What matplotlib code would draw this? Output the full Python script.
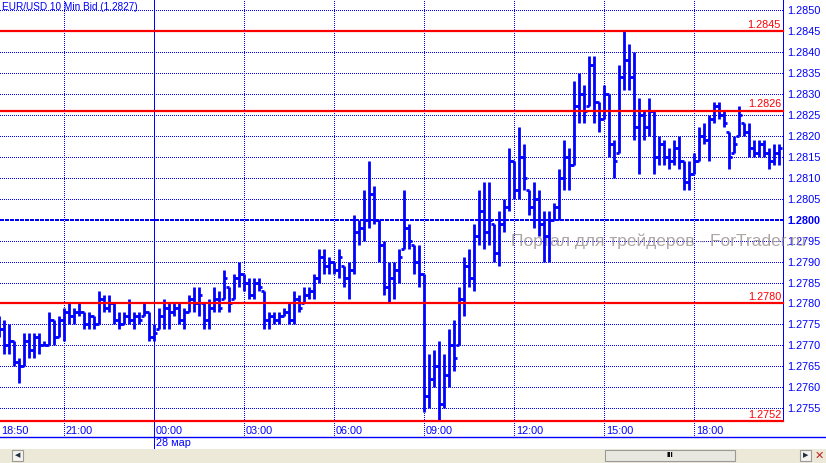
import numpy as np
import pandas as pd
import matplotlib
matplotlib.use("Agg")
import matplotlib.pyplot as plt
import matplotlib.transforms as mtransforms
from matplotlib.collections import LineCollection
from matplotlib.lines import Line2D
from matplotlib.patches import Rectangle

plt.rcParams['font.family'] = ['Liberation Sans', 'DejaVu Sans']
plt.rcParams['font.size'] = 7.5

# EUR/USD 10 min bid bars, in pips above 1.2700
start = "2011-03-27 18:50"
highs_p = [77, 76, 75, 71, 67, 73, 73, 73, 73, 71,
           78, 76, 77, 79, 80, 79, 80, 78, 78, 77,
           83, 82, 82, 80, 78, 78, 81, 78, 78, 80,
           78, 75, 79, 81, 80, 80, 80, 79, 82, 84,
           84, 80, 81, 84, 83, 88, 84, 87, 90, 87,
           86, 86, 86, 83, 78, 78, 78, 79, 80, 83,
           82, 84, 84, 87, 93, 93, 91, 90, 93, 89,
           90, 101, 100, 107, 114, 108, 100, 95, 90, 90,
           93, 107, 99, 94, 94, 87, 68, 69, 71, 68,
           74, 76, 84, 91, 93, 99, 107, 109, 109, 99,
           102, 105, 117, 114, 122, 118, 107, 109, 107, 102,
           102, 104, 112, 119, 117, 133, 135, 132, 139, 139,
           128, 132, 130, 119, 137, 145, 142, 140, 129, 126,
           129, 126, 120, 119, 117, 119, 120, 114, 114, 116,
           122, 123, 125, 128, 128, 126, 121, 120, 127, 123,
           123, 119, 119, 119, 117, 118, 118]
lows_p = [72, 68, 68, 65, 61, 65, 67, 67, 68, 70,
          70, 70, 72, 71, 75, 75, 77, 74, 74, 74,
          75, 78, 78, 75, 74, 75, 75, 74, 75, 77,
          71, 71, 74, 74, 74, 77, 75, 74, 78, 78,
          77, 74, 74, 78, 78, 81, 78, 81, 84, 83,
          81, 81, 83, 74, 74, 75, 75, 77, 75, 75,
          78, 80, 81, 81, 85, 87, 87, 87, 86, 84,
          81, 87, 94, 95, 98, 99, 90, 82, 80, 81,
          85, 93, 93, 87, 84, 54, 55, 60, 52, 55,
          60, 64, 70, 77, 84, 83, 94, 93, 94, 90,
          89, 97, 102, 105, 105, 107, 101, 98, 96, 90,
          90, 100, 100, 107, 107, 113, 123, 123, 127, 123,
          121, 124, 115, 110, 116, 131, 131, 119, 111, 119,
          120, 111, 113, 113, 112, 113, 112, 107, 107, 111,
          114, 118, 114, 123, 124, 122, 112, 116, 120, 120,
          115, 115, 115, 115, 112, 113, 113]
opens_p = [76, 74, 70, 71, 66, 65, 71, 69, 72, 70,
           70, 76, 72, 76, 78, 77, 78, 78, 75, 77,
           75, 81, 79, 80, 76, 75, 77, 76, 77, 77,
           78, 72, 74, 77, 79, 78, 79, 76, 78, 81,
           80, 80, 76, 79, 81, 81, 84, 81, 86, 87,
           85, 82, 85, 83, 76, 77, 76, 77, 78, 76,
           81, 80, 82, 83, 86, 91, 89, 90, 88, 89,
           86, 88, 97, 98, 100, 106, 100, 94, 84, 86,
           88, 93, 98, 94, 90, 87, 58, 62, 65, 56,
           63, 70, 70, 81, 89, 86, 96, 102, 97, 99,
           92, 99, 103, 114, 107, 115, 107, 103, 105, 99,
           96, 100, 103, 110, 115, 113, 127, 130, 127, 137,
           128, 124, 130, 118, 116, 134, 138, 134, 122, 125,
           122, 126, 115, 118, 115, 114, 117, 114, 109, 111,
           114, 120, 119, 124, 127, 125, 121, 116, 120, 123,
           121, 117, 116, 118, 116, 114, 116]
closes_p = [74, 70, 71, 66, 65, 71, 69, 72, 70, 70,
            76, 72, 76, 78, 77, 78, 78, 75, 77, 75,
            81, 79, 80, 76, 75, 77, 76, 77, 76, 78,
            72, 73, 77, 79, 78, 79, 76, 78, 81, 80,
            82, 76, 79, 81, 79, 86, 80, 86, 87, 85,
            82, 85, 84, 76, 77, 76, 77, 78, 76, 81,
            79, 82, 83, 86, 91, 89, 90, 88, 91, 86,
            88, 97, 98, 100, 106, 100, 94, 84, 86, 88,
            91, 98, 95, 90, 87, 58, 62, 65, 56, 63,
            70, 67, 81, 89, 86, 96, 102, 97, 100, 92,
            99, 103, 114, 107, 115, 110, 103, 105, 99, 96,
            100, 103, 110, 115, 113, 127, 130, 126, 137, 128,
            124, 130, 118, 114, 134, 138, 134, 122, 125, 122,
            126, 115, 118, 115, 114, 117, 114, 109, 111, 114,
            120, 119, 124, 127, 125, 123, 115, 118, 125, 121,
            117, 116, 118, 116, 114, 116, 117]

levels = [1.2845, 1.2826, 1.2780, 1.2752]
yticks = [1.2755, 1.2760, 1.2765, 1.2770, 1.2775, 1.2780, 1.2785, 1.2790,
          1.2795, 1.2800, 1.2805, 1.2810, 1.2815, 1.2820, 1.2825, 1.2830,
          1.2835, 1.2840, 1.2845, 1.2850]
title = "EUR/USD 10 Min Bid (1.2827)"
date_label = "28 мар"
watermark = "Портал для трейдеров - ForTrader.ru"

n = len(highs_p)
assert n == len(lows_p) == len(opens_p) == len(closes_p)
hi = 1.27 + np.array(highs_p) / 10000
lo = 1.27 + np.array(lows_p) / 10000
op = 1.27 + np.array(opens_p) / 10000
cl = 1.27 + np.array(closes_p) / 10000
times = pd.date_range(start, periods=n, freq="10min")
x = np.arange(n)

BLUE = "#0000ff"
RED = "#ff0000"
DOT = (0, (1, 2))
PX = 0.72  # one pixel in points

W, H = 826, 463
fig = plt.figure(figsize=(W / 100, H / 100), dpi=100)
ax = fig.add_axes([0, (H - 421) / H, 783 / W, 421 / H])
ax.set_xlim(0.2, 156.8)
ax.set_ylim(1.2845 - 390 / 41922, 1.2845 + 31 / 41922)

# grid
for t in yticks:
    if abs(t - 1.2800) < 1e-6:
        ax.axhline(t, color=BLUE, lw=2 * PX, ls=(0, (2, 0.7)), zorder=1,
                   antialiased=False)
    else:
        ax.axhline(t, color=BLUE, lw=PX, ls=DOT, zorder=1, antialiased=False)

blend = mtransforms.blended_transform_factory(ax.transData, fig.transFigure)
y_axbot = (H - 421) / H
hour_idx = [i for i, t in enumerate(times) if t.minute == 0 and t.hour % 3 == 0]
for i in hour_idx:
    if times[i].hour == 0:
        ax.axvline(i, color=BLUE, lw=PX, zorder=1, antialiased=False)
        ax.plot([i, i], [y_axbot, (H - 450) / H], color=BLUE, lw=PX,
                transform=blend, clip_on=False, antialiased=False)
    else:
        ax.axvline(i, color=BLUE, lw=PX, ls=DOT, zorder=1, antialiased=False)
        ax.plot([i, i], [y_axbot, (H - 437) / H], color=BLUE, lw=PX,
                ls=DOT, transform=blend, clip_on=False, antialiased=False)

# x labels
xlab_idx = [0] + hour_idx
for i in xlab_idx:
    ax.text(i + 0.35, (H - 431) / H, times[i].strftime("%H:%M"), color=BLUE,
            ha="left", va="center", transform=blend, fontsize=7.8)
mid = [i for i in hour_idx if times[i].hour == 0][0]
ax.text(mid + 0.35, (H - 443) / H, date_label, color=BLUE, ha="left",
        va="center", transform=blend, fontsize=7.8)

# watermark (drawn over the price labels, under the bars)
ax.text(102.5, 1.27948, watermark, color="#a09595", alpha=0.85, fontsize=12.5,
        ha="left", va="center", zorder=2.7, clip_on=False)

# OHLC bars
segs = []
for xi, h, l, o, c in zip(x, hi, lo, op, cl):
    segs.append([(xi, l), (xi, h)])
    segs.append([(xi - 0.6, o), (xi, o)])
    segs.append([(xi, c), (xi + 0.6, c)])
ax.add_collection(LineCollection(segs, colors=BLUE, linewidths=2.0,
                                 capstyle="butt", zorder=3))

# levels
for lv in levels:
    ax.axhline(lv, color=RED, lw=1.6, zorder=4, clip_on=False)
    ax.text(156.4, lv + 0.00003, f"{lv:.4f}", color=RED, ha="right",
            va="bottom", fontsize=7.8, zorder=5)

# axes / y labels
for s in ["top", "left", "bottom"]:
    ax.spines[s].set_visible(False)
ax.spines["right"].set_color(BLUE)
ax.spines["right"].set_linewidth(PX)
ax.spines["right"].set_linestyle(DOT)
ax.spines["right"].set_antialiased(False)
ax.set_xticks([])
ax.yaxis.tick_right()
ax.set_yticks(yticks)
ax.set_yticklabels([f"{t:.4f}" for t in yticks])
ax.tick_params(axis="y", length=0, pad=3, labelcolor=BLUE, labelsize=7.8)
for lab, t in zip(ax.get_yticklabels(), yticks):
    if abs(t - 1.2800) < 1e-6:
        lab.set_fontweight("bold")

ax.text(0.003, 0.984, title, transform=ax.transAxes, color=BLUE, ha="left",
        va="center", fontsize=7.2)

# bottom strip: separator line + scrollbar
fig.add_artist(Line2D([0, 1], [(H - 437) / H] * 2, color=BLUE, lw=1,
                      transform=fig.transFigure))
fig.patches.append(Rectangle((0, 0), 1, (H - 449) / H, transform=fig.transFigure,
                             facecolor="#ece9d8", edgecolor="none"))
fig.patches.append(Rectangle((605 / W, 2 / H), 130 / W, 11 / H,
                             transform=fig.transFigure, facecolor="#e9e8e0",
                             edgecolor="#9a9a9a", lw=0.8))
fig.text(670 / W, 7.5 / H, "III", ha="center", va="center", fontsize=6,
         fontweight="bold", color="black")
fig.patches.append(Rectangle((12 / W, 2 / H), 11 / W, 11 / H,
                             transform=fig.transFigure, facecolor="#f4f3ee",
                             edgecolor="#9a9a9a", lw=0.8))
fig.patches.append(Rectangle((800 / W, 2 / H), 11 / W, 11 / H,
                             transform=fig.transFigure, facecolor="#f4f3ee",
                             edgecolor="#9a9a9a", lw=0.8))
fig.text(17.5 / W, 7.5 / H, "◀", ha="center", va="center", fontsize=5,
         color="#203040", family="DejaVu Sans")
fig.text(805.5 / W, 7.5 / H, "▶", ha="center", va="center", fontsize=5,
         color="#203040", family="DejaVu Sans")
fig.text(819 / W, 7.5 / H, "✕", ha="center", va="center", fontsize=8,
         color="#c02020", family="DejaVu Sans")

fig.savefig("out.png", dpi=100)
